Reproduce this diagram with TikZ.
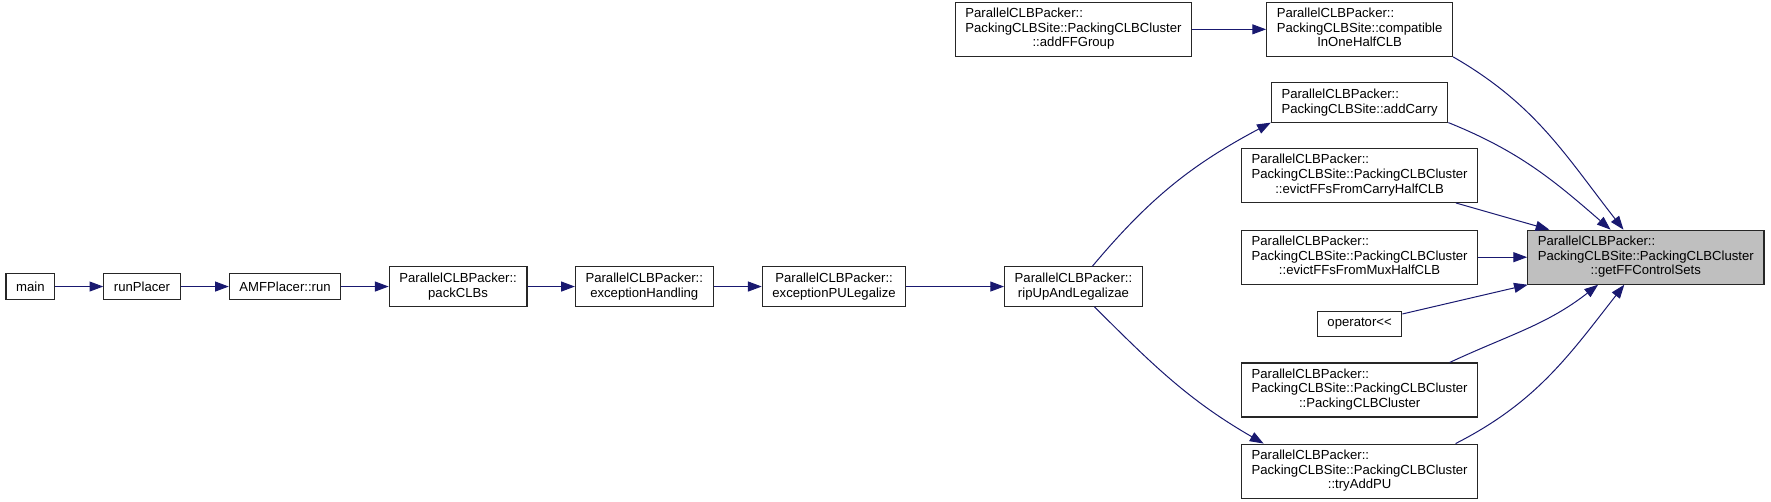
\documentclass[tikz,border=0pt]{standalone}
\usepackage{fontspec}
\setmainfont{Liberation Sans}
\usetikzlibrary{positioning,arrows.meta}
\definecolor{edgeblue}{HTML}{191970}
\definecolor{focusgray}{HTML}{BFBFBF}
\newcommand{\threelines}[3]{\begin{tabular}{@{}l@{}}#1\\#2\\\multicolumn{1}{@{}c@{}}{#3}\end{tabular}}

\begin{document}
\begin{tikzpicture}[
  >={Triangle[length=10.3pt,width=7.5pt]},
  font=\fontsize{9.85}{11}\selectfont,
  fn/.style      ={draw=black!85,line width=0.8pt,fill=white,
                    inner xsep=7.6pt,inner ysep=2pt,minimum height=19pt},
  fntwo/.style   ={fn,align=center,minimum height=29.5pt},
  fnthree/.style ={fn,minimum height=40.5pt},
  focus/.style   ={fill=focusgray},
  call/.style    ={->,draw=edgeblue,line width=0.75pt}]

\useasboundingbox (-22.76pt,214.9pt) rectangle (1305.5pt,-160.9pt);

% --- call chain from main ---
\node[fn] (main) at (0,0) {main};
\node[fn,right=36pt of main] (runPlacer) {runPlacer};
\node[fn,right=36pt of runPlacer] (amfRun) {AMFPlacer::run};
\node[fntwo,right=35.5pt of amfRun] (packCLBs) {ParallelCLBPacker::\\packCLBs};
\node[fntwo,right=35.5pt of packCLBs] (excHandling) {ParallelCLBPacker::\\exceptionHandling};
\node[fntwo,right=36pt of excHandling] (excPU) {ParallelCLBPacker::\\exceptionPULegalize};
\node[fntwo,right=73.2pt of excPU] (ripUp) {ParallelCLBPacker::\\ripUpAndLegalizae};

% --- the function of the graph and its direct callers ---
\node[fnthree,focus] (getFF) at (1211.6pt,22pt)
  {\threelines{ParallelCLBPacker::}{PackingCLBSite::PackingCLBCluster}{::getFFControlSets}};
\node[fnthree,left=36.6pt of getFF] (evictMux)
  {\threelines{ParallelCLBPacker::}{PackingCLBSite::PackingCLBCluster}{::evictFFsFromMuxHalfCLB}};
\node[fnthree,above=20pt of evictMux] (evictCarry)
  {\threelines{ParallelCLBPacker::}{PackingCLBSite::PackingCLBCluster}{::evictFFsFromCarryHalfCLB}};
\node[fntwo,align=left,above=19pt of evictCarry] (addCarry)
  {ParallelCLBPacker::\\PackingCLBSite::addCarry};
\node[fnthree,above=19pt of addCarry] (compat)
  {\threelines{ParallelCLBPacker::}{PackingCLBSite::compatible}{InOneHalfCLB}};
\node[fn,below=19.5pt of evictMux] (oper) {operator<\kern0pt<};
\node[fnthree,below=19pt of oper] (pccCtor)
  {\threelines{ParallelCLBPacker::}{PackingCLBSite::PackingCLBCluster}{::PackingCLBCluster}};
\node[fnthree,below=19.5pt of pccCtor] (tryAddPU)
  {\threelines{ParallelCLBPacker::}{PackingCLBSite::PackingCLBCluster}{::tryAddPU}};
\node[fnthree] (addFF) at (ripUp |- compat)
  {\threelines{ParallelCLBPacker::}{PackingCLBSite::PackingCLBCluster}{::addFFGroup}};

% --- calls ---
\draw[call] (main) -- (runPlacer);
\draw[call] (runPlacer) -- (amfRun);
\draw[call] (amfRun) -- (packCLBs);
\draw[call] (packCLBs) -- (excHandling);
\draw[call] (excHandling) -- (excPU);
\draw[call] (excPU) -- (ripUp);
\draw[call] (ripUp.47) to[out=50,in=208] (addCarry.south west);
\draw[call] (ripUp.-44) to[out=-45,in=150] (tryAddPU.164);
\draw[call] (addFF) -- (compat);

\draw[call] (compat.south east) to[out=-30,in=128] (getFF.129);
\draw[call] (addCarry.south east) to[out=-22,in=139] (getFF.142);
\draw[call] (evictCarry) -- (getFF);
\draw[call] (evictMux) -- (getFF);
\draw[call] (oper) -- (getFF);
\draw[call] (pccCtor.17) to[out=25,in=218] (getFF.210);
\draw[call] (tryAddPU.16) to[out=27,in=232] (getFF.232);

\end{tikzpicture}
\end{document}
